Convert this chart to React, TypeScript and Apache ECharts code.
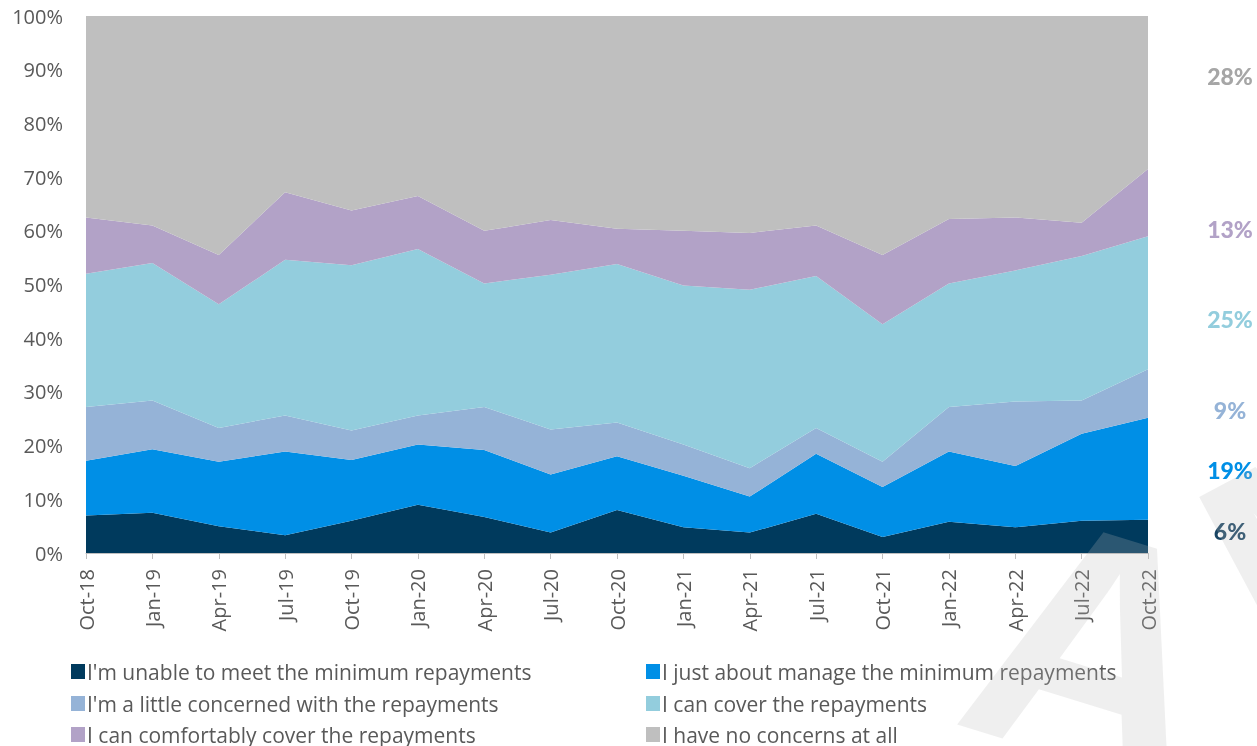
import React, { useEffect, useRef } from "react";
import * as echarts from "echarts";

const categories = ["Oct-18","Jan-19","Apr-19","Jul-19","Oct-19","Jan-20","Apr-20","Jul-20","Oct-20","Jan-21","Apr-21","Jul-21","Oct-21","Jan-22","Apr-22","Jul-22","Oct-22"];

const seriesNames = [
  "I'm unable to meet the minimum repayments",
  "I just about manage the minimum repayments",
  "I'm a little concerned with the repayments",
  "I can cover the repayments",
  "I can comfortably cover the repayments",
  "I have no concerns at all",
];

const unableToMeet = [7.0, 7.5, 5.0, 3.3, 6.0, 9.0, 6.7, 3.8, 8.0, 4.8, 3.8, 7.3, 3.0, 5.8, 4.8, 6.0, 6.2];
const justAboutManage = [10.2, 11.8, 12.0, 15.6, 11.3, 11.2, 12.5, 10.8, 10.0, 9.6, 6.7, 11.2, 9.3, 13.1, 11.4, 16.2, 19.0];
const littleConcerned = [10.0, 9.1, 6.3, 6.7, 5.5, 5.4, 8.0, 8.4, 6.3, 5.8, 5.3, 4.8, 4.7, 8.3, 12.0, 6.2, 9.0];
const canCover = [24.8, 25.6, 23.0, 29.0, 30.8, 31.0, 23.0, 28.8, 29.5, 29.6, 33.2, 28.3, 25.6, 23.0, 24.4, 26.9, 24.8];
const comfortablyCover = [10.5, 7.0, 9.2, 12.6, 10.2, 9.9, 9.8, 10.2, 6.6, 10.2, 10.6, 9.4, 12.9, 12.0, 9.9, 6.2, 12.5];
const noConcerns = [37.5, 39.0, 44.5, 32.8, 36.2, 33.5, 40.0, 38.0, 39.6, 40.0, 40.4, 39.0, 44.5, 37.8, 37.5, 38.5, 28.5];

const endLabels = ["6%", "19%", "9%", "25%", "13%", "28%"];
const yTickLabels = ["0%","10%","20%","30%","40%","50%","60%","70%","80%","90%","100%"];
const watermarkLetters = ["A", "M"];

const colors = ["#003A5D", "#008FE6", "#95B3D7", "#93CDDD", "#B2A2C7", "#BFBFBF"];
const labelColors = ["#1A4564", "#008FE6", "#95B3D7", "#93CDDD", "#B2A2C7", "#A6A6A6"];
const labelY = [531, 470, 410, 319, 229, 76];
// legend slot per series: [left, centerY]
const legendPos: [number, number][] = [
  [66, 671], [641, 671],
  [66, 703], [641, 703],
  [66, 734], [641, 734],
];
// watermark letter placement: [centerX, centerY, rotation]
const watermarkPos: [number, number, number][] = [
  [1097, 648, -0.3],
  [1354, 542, 0.49],
];

export default function App() {
  const ref = useRef<HTMLDivElement>(null);
  useEffect(() => {
    if (!ref.current) return;
    const chart = echarts.init(ref.current, null, { renderer: "svg" });
    const values = [unableToMeet, justAboutManage, littleConcerned, canCover, comfortablyCover, noConcerns];
    const font = "'Open Sans', sans-serif";
    chart.setOption({
      animation: false,
      grid: { left: 86, right: 109, top: 16, bottom: 193, containLabel: false },
      xAxis: {
        type: "category",
        data: categories,
        boundaryGap: false,
        axisLine: { show: true, lineStyle: { color: "#BFBFBF", width: 1 } },
        axisTick: { show: true, alignWithLabel: true, length: 6, lineStyle: { color: "#BFBFBF" } },
        axisLabel: { rotate: 90, fontSize: 20, color: "#595959", fontFamily: font, margin: 16, interval: 0 },
        splitLine: { show: false },
        z: 10,
      },
      yAxis: {
        type: "value",
        min: 0,
        max: 100,
        interval: 10,
        axisLine: { show: false },
        axisTick: { show: false },
        splitLine: { show: false },
        axisLabel: {
          fontSize: 20,
          color: "#595959",
          fontFamily: font,
          margin: 23,
          formatter: (v: number) => yTickLabels[Math.round(v / 10)],
        },
      },
      legend: seriesNames.map((n, i) => ({
        left: legendPos[i][0],
        top: legendPos[i][1] - 15,
        itemWidth: 14,
        itemHeight: 15,
        icon: "rect",
        data: [n],
        textStyle: { fontSize: 21, color: "#595959", fontFamily: font, padding: [0, 0, 0, -3] },
      })),
      series: values.map((d, i) => ({
        name: seriesNames[i],
        type: "line",
        stack: "total",
        data: d,
        symbol: "none",
        lineStyle: { width: 0, color: colors[i] },
        itemStyle: { color: colors[i] },
        areaStyle: { color: colors[i], opacity: 1 },
      })),
      graphic: [
        ...endLabels.map((t, i) => ({
          type: "text",
          x: 1230,
          y: labelY[i],
          style: {
            text: t,
            fill: labelColors[i],
            font: "900 23px Lato, sans-serif",
            align: "center",
            verticalAlign: "middle",
          },
          z: 100,
        })),
        ...watermarkLetters.map((t, i) => ({
          type: "text",
          x: watermarkPos[i][0],
          y: watermarkPos[i][1],
          rotation: watermarkPos[i][2],
          style: {
            text: t,
            fill: "rgba(185,185,185,0.23)",
            font: "bold 330px 'Liberation Sans', sans-serif",
            align: "center",
            verticalAlign: "middle",
          },
          z: 200,
          silent: true,
        })),
      ],
    });
    return () => chart.dispose();
  }, []);
  return (
    <div
      ref={ref}
      style={{ position: "fixed", left: 0, top: 0, width: 1257, height: 746, overflow: "hidden" }}
    />
  );
}
